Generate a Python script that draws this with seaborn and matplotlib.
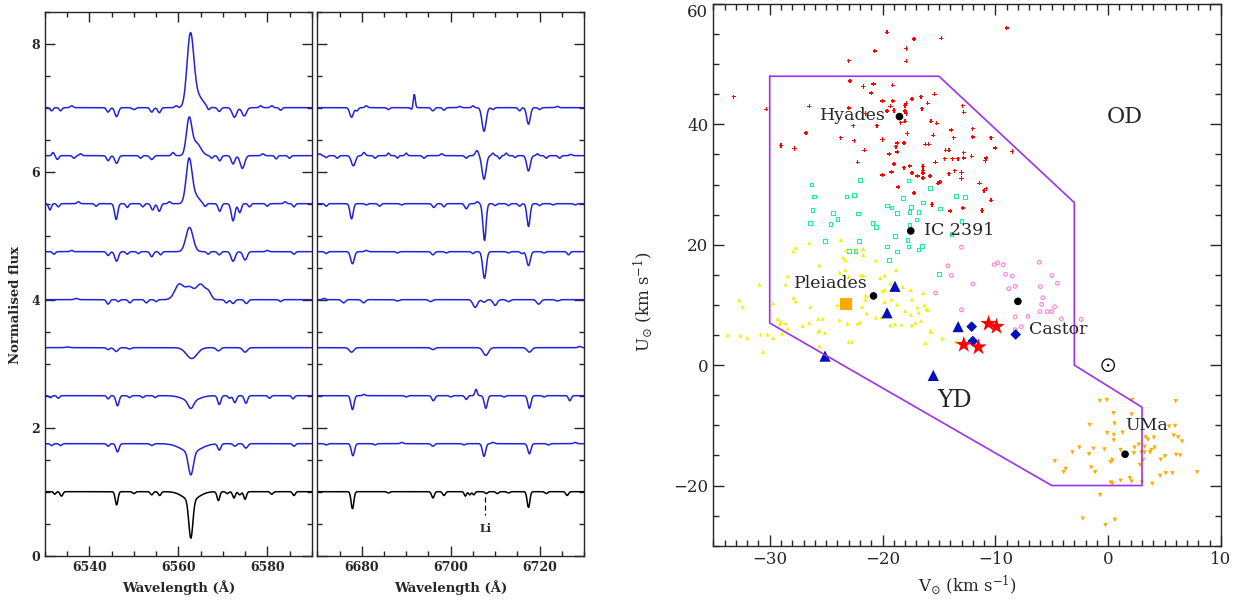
import numpy as np
import pandas as pd
import seaborn as sns
import matplotlib
matplotlib.use("Agg")
import matplotlib.pyplot as plt
from matplotlib.ticker import MultipleLocator

# ---------------- spectra: continuum levels and lines (centre, amplitude, sigma) ----------------
offsets = [7.0, 6.25, 5.5, 4.75, 4.0, 3.25, 2.5, 1.75, 1.0]
colors = ['#2222dd'] * 8 + ['black']

ha_lines = [
    [(6562.7, 1.1, 0.75), (6564.3, 0.18, 1.2), (6531.5, -0.05, 0.3), (6533.5, -0.05, 0.3), (6536, 0.03, 0.3),
     (6544.2, -0.07, 0.35), (6546.1, -0.14, 0.4), (6550, -0.03, 0.4), (6554, -0.07, 0.35), (6555.7, -0.08, 0.35),
     (6559.5, 0.03, 0.3), (6566.8, -0.05, 0.3), (6569.2, -0.06, 0.35), (6572.6, -0.15, 0.5), (6574.8, -0.13, 0.5),
     (6578.5, 0.03, 0.3), (6581, 0.03, 0.3), (6583, -0.04, 0.3)],
    [(6562.4, 0.55, 0.6), (6564.0, 0.2, 1.0), (6531.8, 0.05, 0.25), (6532.8, -0.06, 0.3), (6536.5, -0.04, 0.3),
     (6538, 0.03, 0.3), (6544.2, -0.08, 0.35), (6546.1, -0.12, 0.4), (6551.5, -0.04, 0.3), (6554, -0.06, 0.4),
     (6558.8, 0.05, 0.3), (6567.5, -0.04, 0.3), (6569.3, -0.08, 0.35), (6572.3, -0.13, 0.4), (6574.4, -0.2, 0.5),
     (6579, 0.03, 0.3), (6582, -0.05, 0.3), (6585, -0.04, 0.3)],
    [(6562.4, 0.68, 0.65), (6563.8, 0.12, 0.9), (6531.1, -0.1, 0.3), (6533, -0.05, 0.3), (6537.5, 0.03, 0.3),
     (6541.5, -0.04, 0.3), (6546, -0.25, 0.35), (6548.5, -0.06, 0.3), (6552, -0.05, 0.3), (6554.2, -0.1, 0.35),
     (6555.7, -0.12, 0.35), (6558, 0.03, 0.3), (6566, -0.05, 0.3), (6569.3, -0.12, 0.35), (6572.3, -0.27, 0.4),
     (6573.8, -0.14, 0.35), (6576, -0.05, 0.3), (6580, -0.04, 0.3), (6584, 0.03, 0.3), (6586, -0.05, 0.3)],
    [(6562.5, 0.38, 0.8), (6532, -0.04, 0.3), (6536, 0.02, 0.3), (6544.2, -0.06, 0.35), (6546.1, -0.15, 0.4),
     (6548.5, -0.04, 0.3), (6551, -0.03, 0.3), (6554, -0.08, 0.35), (6556, -0.05, 0.3), (6566.7, -0.04, 0.3),
     (6569.2, -0.05, 0.35), (6572.3, -0.15, 0.45), (6575, -0.13, 0.45), (6580, 0.02, 0.3), (6586, -0.04, 0.3)],
    [(6560.2, 0.24, 1.0), (6562.5, 0.18, 0.9), (6565.0, 0.24, 1.0), (6566.8, 0.1, 0.6), (6544.2, -0.07, 0.35),
     (6546.5, -0.03, 0.3), (6549.1, -0.05, 0.35), (6552.8, -0.05, 0.35), (6555, -0.03, 0.3), (6570.8, -0.05, 0.35),
     (6572.3, -0.06, 0.4), (6575.3, -0.06, 0.4), (6583, -0.03, 0.3), (6537, 0.02, 0.4)],
    [(6546.0, -0.06, 0.45), (6544.2, -0.03, 0.35), (6563.0, -0.17, 1.2), (6569.0, -0.05, 0.45),
     (6575.0, -0.07, 0.5), (6549, -0.02, 0.4), (6535, 0.01, 0.5)],
    [(6533, -0.04, 0.3), (6531.2, -0.03, 0.3), (6544.2, -0.05, 0.3), (6546.3, -0.16, 0.35), (6549, -0.03, 0.3),
     (6552, -0.03, 0.3), (6554.8, -0.03, 0.3), (6562.8, -0.12, 0.6), (6562.8, -0.08, 1.8), (6569.2, -0.14, 0.35),
     (6571.5, -0.04, 0.3), (6572.7, -0.11, 0.35), (6575.2, -0.12, 0.35), (6580.5, -0.04, 0.3), (6585.8, -0.05, 0.3)],
    [(6531.5, -0.03, 0.3), (6533.5, -0.03, 0.3), (6544.2, -0.04, 0.3), (6546.3, -0.13, 0.35), (6554, -0.03, 0.35),
     (6562.8, -0.36, 0.55), (6562.8, -0.13, 2.2), (6569.2, -0.1, 0.35), (6572.7, -0.04, 0.35), (6575.2, -0.07, 0.4),
     (6586, -0.04, 0.3)],
    [(6532.2, -0.04, 0.25), (6533.7, -0.07, 0.3), (6546.1, -0.21, 0.3), (6550, -0.03, 0.3), (6554, -0.05, 0.3),
     (6555.8, -0.06, 0.3), (6562.8, -0.6, 0.45), (6562.8, -0.13, 1.8), (6569, -0.14, 0.3), (6571, -0.03, 0.3),
     (6572.5, -0.1, 0.3), (6573.8, -0.05, 0.3), (6575, -0.12, 0.3), (6581, -0.04, 0.3), (6586, -0.06, 0.3)],
]

li_lines = [
    [(6677.7, -0.15, 0.4), (6678.9, -0.05, 0.3), (6681, 0.03, 0.3), (6686, -0.03, 0.3), (6691.8, 0.22, 0.22),
     (6691.3, -0.03, 0.3), (6696, -0.05, 0.35), (6698.5, -0.04, 0.3), (6702, 0.02, 0.3), (6705, 0.03, 0.25),
     (6707.5, -0.37, 0.45), (6709.5, -0.03, 0.3), (6715.5, -0.05, 0.3), (6717.5, -0.26, 0.4), (6720, -0.03, 0.3),
     (6724, 0.02, 0.3)],
    [(6670.5, 0.03, 0.3), (6672, -0.03, 0.3), (6674.5, -0.04, 0.3), (6678.1, -0.16, 0.45), (6680.5, 0.05, 0.3),
     (6683, -0.04, 0.3), (6686, 0.04, 0.25), (6688, -0.04, 0.25), (6690, 0.04, 0.25), (6694, -0.04, 0.3),
     (6698, 0.03, 0.3), (6703.5, -0.04, 0.3), (6705.9, 0.08, 0.35), (6707.5, -0.37, 0.45), (6709.5, 0.04, 0.25),
     (6711, -0.05, 0.25), (6712.5, 0.04, 0.25), (6714.5, -0.03, 0.25), (6717.5, -0.24, 0.4), (6719.5, 0.03, 0.25),
     (6721.5, -0.04, 0.3), (6724.5, -0.04, 0.3), (6727, 0.02, 0.3)],
    [(6672, -0.04, 0.3), (6677.7, -0.24, 0.35), (6681, -0.02, 0.3), (6684, -0.04, 0.3), (6689, -0.02, 0.3),
     (6696.2, -0.06, 0.35), (6698.5, -0.05, 0.3), (6703.5, -0.08, 0.35), (6706, 0.03, 0.3), (6707.6, -0.58, 0.35),
     (6710, -0.03, 0.3), (6713, -0.03, 0.3), (6715.5, -0.04, 0.3), (6717.5, -0.36, 0.35), (6720, -0.03, 0.3),
     (6723, -0.02, 0.3), (6728, -0.02, 0.3)],
    [(6672, -0.03, 0.3), (6677.9, -0.19, 0.4), (6681, 0.02, 0.3), (6688, -0.02, 0.3), (6696, -0.05, 0.35),
     (6699, -0.02, 0.3), (6705, -0.03, 0.3), (6707.6, -0.42, 0.4), (6713, -0.02, 0.3), (6716, -0.03, 0.3),
     (6717.5, -0.22, 0.4), (6721, -0.02, 0.3), (6726.5, -0.05, 0.3)],
    [(6671.5, 0.02, 0.3), (6675.9, -0.05, 0.4), (6680.4, -0.05, 0.4), (6688, -0.02, 0.4), (6695.5, -0.03, 0.4),
     (6705.5, -0.12, 0.5), (6707.5, -0.04, 0.4), (6710, -0.09, 0.45), (6713, -0.03, 0.4), (6719.8, -0.07, 0.45),
     (6724, -0.02, 0.4)],
    [(6677.7, -0.07, 0.5), (6696, -0.03, 0.4), (6707.9, -0.12, 0.6), (6717.7, -0.07, 0.5), (6729, 0.02, 0.3)],
    [(6677.9, -0.22, 0.35), (6680.5, 0.02, 0.3), (6690, -0.02, 0.3), (6696.1, -0.08, 0.35), (6700, -0.02, 0.3),
     (6703.5, -0.06, 0.3), (6705.7, 0.1, 0.25), (6707.9, -0.2, 0.35), (6712, -0.02, 0.3), (6717.7, -0.2, 0.35),
     (6721, -0.02, 0.3), (6726.8, -0.08, 0.3)],
    [(6672, -0.02, 0.3), (6678, -0.19, 0.35), (6683, -0.02, 0.3), (6689, 0.02, 0.3), (6696, -0.04, 0.35),
     (6703, -0.02, 0.3), (6707.5, -0.2, 0.35), (6709.5, 0.02, 0.3), (6717.7, -0.16, 0.35), (6722, -0.02, 0.3),
     (6728, 0.02, 0.3)],
    [(6677.9, -0.27, 0.3), (6686, -0.02, 0.3), (6696, -0.1, 0.3), (6698.5, -0.06, 0.3), (6703.3, -0.07, 0.25),
     (6704.3, -0.05, 0.25), (6705.2, -0.05, 0.25), (6708, -0.03, 0.3), (6710.5, -0.03, 0.3), (6713, -0.02, 0.3),
     (6717.5, -0.25, 0.3), (6721.5, -0.03, 0.3), (6726.2, -0.06, 0.3)],
]

li_wave = 6707.8

# ---------------- UV plane ----------------
hya_v = [-19.6, -17.2, -14.8, -9.0, -20.7, -17.9, -23.0, -17.9, -22.9, -21.7, -20.8, -19.1, -21.0, -20.0, -19.1,
         -17.4, -16.6, -15.4, -26.5, -30.3, -23.0, -19.6, -19.3, -19.0, -18.0, -17.9, -18.0, -17.9, -21.5, -16.5,
         -16.0, -12.9, -12.8, -18.4, -18.0, -22.6, -20.5, -15.7, -15.2, -26.8, -17.8, -15.5, -13.9, -12.0, -13.7,
         -12.0, -10.4, -23.7, -22.5, -20.0, -18.7, -18.1, -18.8, -16.2, -15.9, -29.0, -27.8, -21.6, -18.7, -19.4,
         -14.4, -14.1, -12.8, -10.0, -8.5, -14.5, -13.8, -13.3, -12.8, -12.1, -10.8, -10.9, -22.2, -19.0, -15.3,
         -18.1, -17.6, -16.4, -16.4, -16.4, -17.4, -16.9, -16.4, -15.8, -14.1, -13.6, -13.0, -13.0, -20.0, -19.2,
         -15.1, -14.9, -11.4, -10.8, -11.0, -18.6, -17.2, -33.2, -10.4, -11.2, -12.9, -15.6, -14.0]
hya_u = [55.3, 54.2, 54.3, 56.0, 52.2, 52.6, 50.6, 50.5, 47.2, 46.3, 46.7, 46.5, 45.2, 43.9, 43.9,
         44.2, 44.6, 45.0, 43.0, 42.5, 42.7, 42.2, 43.0, 42.3, 43.1, 43.5, 42.2, 41.8, 41.8, 42.6,
         43.5, 43.1, 42.0, 40.3, 40.5, 39.8, 39.8, 40.5, 40.2, 38.6, 38.5, 38.2, 39.1, 39.3, 37.8,
         37.9, 37.8, 37.8, 37.3, 37.5, 36.9, 36.9, 36.3, 36.7, 36.7, 36.5, 36.0, 35.7, 35.4, 35.1,
         35.7, 35.7, 35.3, 36.1, 35.5, 34.3, 34.3, 34.3, 34.4, 34.7, 34.4, 34.0, 33.7, 33.4, 33.7,
         32.8, 33.1, 33.0, 32.3, 31.9, 31.9, 31.45, 31.1, 31.45, 31.8, 32.3, 32.0, 31.0, 31.6, 32.1,
         30.2, 30.4, 30.2, 29.3, 29.0, 29.6, 28.6, 44.6, 27.4, 25.7, 26.1, 26.7, 25.6]

ic_v = [-26.3, -22.0, -26.1, -23.2, -22.5, -26.2, -24.4, -22.2, -24.0, -26.4, -24.6, -20.9, -20.6, -18.2, -17.7,
        -15.8, -19.6, -19.2, -18.7, -17.5, -17.6, -16.8, -16.4, -14.9, -13.5, -12.7, -17.0, -17.6, -13.0, -13.9,
        -25.1, -22.1, -23.0, -22.4, -18.9, -19.6, -18.7, -17.8, -17.7, -16.5, -16.8, -19.4, -15.0]
ic_u = [30.0, 30.8, 28.0, 28.0, 28.3, 25.8, 25.3, 25.2, 24.3, 23.6, 23.5, 23.6, 22.9, 27.8, 30.7,
        29.4, 26.5, 26.2, 25.3, 26.3, 25.4, 25.4, 27.0, 26.0, 28.1, 27.9, 24.2, 23.3, 23.9, 21.8,
        20.6, 20.6, 19.0, 19.0, 21.5, 19.7, 18.9, 20.8, 19.7, 19.8, 19.2, 17.5, 15.1]

ple_v = [-26.5, -27.9, -27.7, -23.7, -23.5, -23.3, -23.2, -22.3, -21.7, -21.7, -20.6, -25.6, -28.4, -28.6, -30.9,
         -23.8, -23.3, -23.0, -21.9, -21.7, -20.2, -19.8, -18.8, -19.3, -18.2, -17.5, -20.0, -19.8, -21.5, -21.5,
         -21.8, -21.4, -20.6, -20.1, -19.8, -19.2, -18.7, -18.0, -17.4, -16.4, -16.9, -16.8, -16.3, -16.1, -16.0,
         -17.5, -27.9, -27.7, -26.4, -29.7, -24.0, -32.7, -32.4, -29.3, -29.0, -29.1, -28.6, -28.4, -27.1, -26.5,
         -25.7, -25.3, -25.6, -25.7, -25.1, -23.8, -23.1, -22.2, -22.0, -19.3, -18.9, -18.3, -17.4, -17.1, -16.6,
         -15.75, -15.7, -28.9, -29.7, -30.2, -30.8, -32.0, -32.6, -33.7, -25.6, -23.0, -22.7, -30.6, -16.2, -14.7,
         -13.5]
ple_u = [20.3, 18.9, 19.5, 20.8, 17.9, 17.5, 19.1, 19.2, 19.3, 18.3, 17.4, 16.6, 14.8, 13.4, 13.4,
         15.4, 15.8, 14.7, 14.9, 14.9, 14.5, 14.9, 15.8, 13.6, 13.0, 12.5, 12.3, 12.5, 11.6, 10.9,
         9.7, 8.6, 7.9, 8.0, 10.5, 10.9, 10.1, 9.0, 10.9, 12.0, 9.6, 8.7, 9.95, 9.3, 9.2,
         8.4, 11.2, 10.6, 9.7, 10.3, 10.0, 10.8, 9.7, 7.7, 7.2, 6.9, 6.97, 6.1, 6.5, 7.0,
         7.7, 7.7, 5.75, 5.6, 5.4, 7.5, 6.9, 6.9, 7.1, 6.6, 6.8, 6.75, 6.6, 7.0, 7.35,
         5.7, 5.5, 5.25, 4.5, 5.1, 5.1, 4.5, 4.9, 5.0, 3.15, 3.9, 3.9, 2.2, 3.7, 4.4,
         3.9]

cas_v = [-13.0, -10.1, -9.8, -9.3, -9.1, -8.5, -6.1, -5.0, -4.5, -12.0, -8.8, -8.25, -6.0, -5.8, -5.9,
         -4.75, -6.05, -5.4, -5.0, -4.15, -13.0, -8.25, -7.1, -7.7, -8.25, -2.4, -14.2, -13.9, -15.3]
cas_u = [19.6, 16.7, 17.0, 16.7, 15.1, 14.8, 17.1, 14.9, 13.6, 13.5, 12.7, 13.1, 13.05, 11.2, 10.1,
         9.7, 8.9, 8.9, 8.9, 7.7, 9.2, 8.0, 8.1, 6.4, 5.9, 7.6, 16.5, 14.9, 12.0]

uma_v = [-0.74, -0.12, 2.14, 5.99, 0.47, 2.08, -1.63, 0.56, 5.40, 5.93, -0.09, 0.50, 0.50, 1.28, 3.32,
         3.53, 4.06, 5.81, 6.20, 6.55, 2.73, 2.34, 3.23, 4.12, 3.83, 3.71, 2.94, 3.23, 2.28, 1.10,
         -0.33, -1.30, -2.55, -3.17, -1.69, 5.04, 6.02, 6.38, 4.66, 3.11, 0.39, 0.21, 2.82, -4.72, -3.77,
         -3.94, -1.51, -1.16, 4.60, 5.10, 5.69, 7.89, 1.93, 2.08, 1.10, 0.24, 0.39, 3.0, 3.91, -0.71,
         -2.25, 0.59, -0.24]
uma_u = [-5.97, -5.8, -5.8, -6.0, -8.0, -8.2, -9.95, -9.7, -10.2, -10.1, -11.3, -11.6, -12.5, -11.2, -12.0,
         -12.4, -12.05, -11.7, -12.0, -12.7, -13.2, -13.7, -13.55, -13.7, -14.1, -14.5, -14.5, -14.5, -14.65, -14.1,
         -14.0, -13.9, -13.7, -14.5, -14.8, -15.15, -14.9, -15.0, -15.7, -15.75, -15.8, -16.1, -16.6, -15.98, -17.25,
         -17.8, -17.0, -17.8, -18.4, -17.97, -17.97, -17.8, -18.8, -19.35, -19.2, -19.5, -19.7, -19.5, -19.7, -21.6,
         -25.5, -25.7, -26.6]

# young-disc boundary
yd_v = [-30, -15, -3, -3, 3, 3, -5, -30, -30]
yd_u = [48, 48, 27, 0, -7, -20, -20, 7, 48]

# cluster centres
cl_names = ['Hyades', 'IC 2391', 'Pleiades', 'Castor', 'UMa']
cl_v = [-18.5, -17.5, -20.8, -8.0, 1.5]
cl_u = [41.3, 22.3, 11.5, 10.6, -14.8]

# programme stars
tri_v = [-18.9, -19.6, -25.1, -15.5, -13.3]
tri_u = [13.1, 8.7, 1.5, -1.7, 6.4]
dia_v = [-12.1, -12.0, -8.2]
dia_u = [6.4, 4.0, 5.1]
star_v = [-10.6, -9.9, -12.8, -11.5]
star_u = [6.9, 6.4, 3.4, 3.0]
sq_v = [-23.2]
sq_u = [10.2]

# ---------------- figure ----------------
sns.set_style('ticks')
plt.rcParams['font.family'] = ['DejaVu Serif']
plt.rcParams['mathtext.fontset'] = 'dejavuserif'

fig = plt.figure(figsize=(12.44, 6.01), dpi=100)
ax1 = fig.add_axes([0.0362, 0.0754, 0.2144, 0.9052])
ax2 = fig.add_axes([0.2551, 0.0754, 0.2144, 0.9052])
ax3 = fig.add_axes([0.5734, 0.092, 0.4081, 0.9013])


def spectrum(wave, off, lines):
    flux = np.full_like(wave, off)
    for c, a, s in lines:
        flux += a * np.exp(-0.5 * ((wave - c) / s) ** 2)
    return flux


w1 = np.arange(6530, 6590.01, 0.15)
w2 = np.arange(6670, 6730.01, 0.15)
for off, lines, col in zip(offsets, ha_lines, colors):
    sns.lineplot(x=w1, y=spectrum(w1, off, lines), ax=ax1, color=col, lw=1.1, estimator=None, sort=False)
for off, lines, col in zip(offsets, li_lines, colors):
    sns.lineplot(x=w2, y=spectrum(w2, off, lines), ax=ax2, color=col, lw=1.1, estimator=None, sort=False)

ax2.plot([li_wave, li_wave], [0.91, 0.63], color='black', lw=0.9, ls=(0, (4, 2.5)))
ax2.text(li_wave, 0.43, 'Li', ha='center', va='center', fontsize=8, fontweight='bold')

for ax, lo in ((ax1, 6530), (ax2, 6670)):
    ax.set_xlim(lo, lo + 60)
    ax.set_ylim(0, 8.5)
    ax.xaxis.set_major_locator(MultipleLocator(20))
    ax.xaxis.set_minor_locator(MultipleLocator(5))
    ax.yaxis.set_major_locator(MultipleLocator(2))
    ax.yaxis.set_minor_locator(MultipleLocator(0.5))
    ax.tick_params(which='both', direction='in', top=True, right=True, width=1.0, labelsize=9)
    ax.tick_params(which='major', length=7)
    ax.tick_params(which='minor', length=3.5)
    ax.set_xlabel('Wavelength (Å)', fontsize=9.5, fontweight='bold', labelpad=5)
    for lab in ax.get_xticklabels() + ax.get_yticklabels():
        lab.set_fontweight('bold')
    for sp in ax.spines.values():
        sp.set_linewidth(1.0)
ax1.set_ylabel('Normalised flux', fontsize=9.5, fontweight='bold')
ax1.yaxis.set_label_coords(-0.085, 0.46)
ax2.set_ylabel('')
ax2.tick_params(labelleft=False)

# UV panel
sns.lineplot(x=yd_v, y=yd_u, ax=ax3, color='#a030f0', lw=1.2, estimator=None, sort=False)
sns.scatterplot(x=hya_v, y=hya_u, ax=ax3, marker='P', s=9, color='red', edgecolor='none', linewidth=0)
sns.scatterplot(x=ic_v, y=ic_u, ax=ax3, marker='s', s=7, facecolors='none', edgecolor='#22e8a0', linewidth=0.8)
sns.scatterplot(x=ple_v, y=ple_u, ax=ax3, marker='^', s=9, color='#f2f200', edgecolor='none', linewidth=0)
sns.scatterplot(x=cas_v, y=cas_u, ax=ax3, marker='o', s=7, facecolors='none', edgecolor='#ff7fd8', linewidth=0.8)
sns.scatterplot(x=uma_v, y=uma_u, ax=ax3, marker='v', s=10, color='#ffaa00', edgecolor='none', linewidth=0)
sns.scatterplot(x=cl_v, y=cl_u, ax=ax3, marker='o', s=30, color='black', edgecolor='none', linewidth=0)
sns.scatterplot(x=sq_v, y=sq_u, ax=ax3, marker='s', s=75, color='#ffaa00', edgecolor='none', linewidth=0)
sns.scatterplot(x=tri_v, y=tri_u, ax=ax3, marker='^', s=65, color='#0010bb', edgecolor='none', linewidth=0)
sns.scatterplot(x=dia_v, y=dia_u, ax=ax3, marker='D', s=30, color='#0010bb', edgecolor='none', linewidth=0)
sns.scatterplot(x=star_v, y=star_u, ax=ax3, marker='*', s=160, color='red', edgecolor='none', linewidth=0)
sns.scatterplot(x=[0], y=[0], ax=ax3, marker='o', s=80, facecolors='none', edgecolor='black', linewidth=0.9)
sns.scatterplot(x=[0], y=[0], ax=ax3, marker='o', s=3, color='black', edgecolor='none', linewidth=0)

lab_pos = {'Hyades': (-19.7, 41.5, 'right'), 'IC 2391': (-16.3, 22.3, 'left'),
           'Pleiades': (-21.3, 13.6, 'right'), 'Castor': (-7.0, 5.9, 'left'), 'UMa': (1.5, -10.0, 'left')}
for name in cl_names:
    x, y, ha = lab_pos[name]
    ax3.text(x, y, name, ha=ha, va='center', fontsize=12.5)
ax3.text(1.5, 41.3, 'OD', ha='center', va='center', fontsize=16)
ax3.text(-13.6, -5.8, 'YD', ha='center', va='center', fontsize=17)

ax3.set_xlim(-35, 10)
ax3.set_ylim(-30, 60)
ax3.set_xticks([-30, -20, -10, 0, 10])
ax3.set_yticks([-20, 0, 20, 40, 60])
ax3.xaxis.set_minor_locator(MultipleLocator(1))
ax3.yaxis.set_minor_locator(MultipleLocator(5))
ax3.tick_params(which='both', direction='in', top=True, right=True, width=1.0, labelsize=12)
ax3.tick_params(which='major', length=8)
ax3.tick_params(which='minor', length=4.5)
ax3.get_yticklabels()[-1].set_verticalalignment('top')
ax3.set_xlabel(r'V$_{\odot}$ (km s$^{-1}$)', fontsize=12, labelpad=4)
ax3.set_ylabel(r'U$_{\odot}$ (km s$^{-1}$)', fontsize=12)
ax3.yaxis.set_label_coords(-0.115, 0.45)
for sp in ax3.spines.values():
    sp.set_linewidth(1.0)

fig.savefig('out.png', dpi=100)
